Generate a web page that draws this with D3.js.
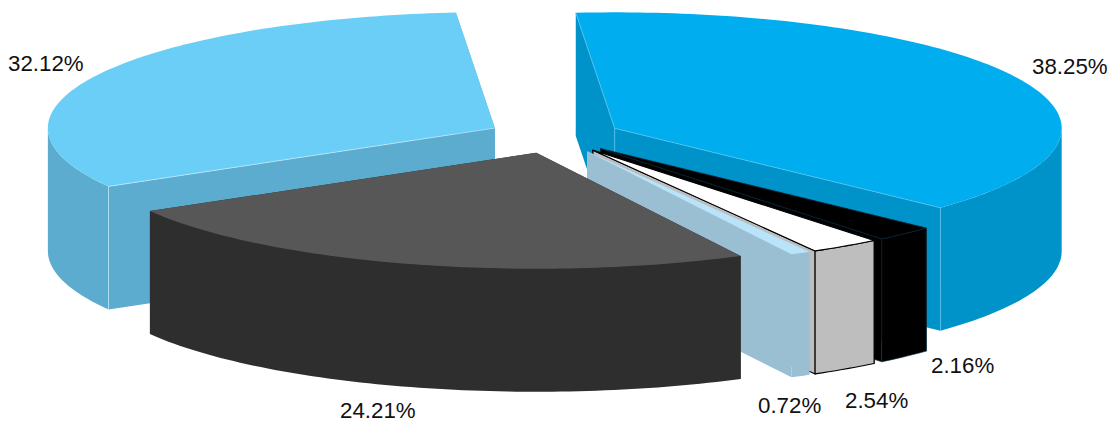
<!DOCTYPE html>
<html>
<head>
<meta charset="utf-8">
<style>
  html, body { margin: 0; padding: 0; background: #fff; }
  svg { display: block; }
  text { font-family: "Liberation Sans", Arial, sans-serif; font-size: 22.3px; fill: #111; }
</style>
<script src="https://cdn.jsdelivr.net/npm/d3@7"></script>
</head>
<body>
<div id="chart"></div>
<script>
// values, clockwise from the blue slice
const shares = [38.25, 2.16, 2.54, 0.72, 24.21, 32.12];
const labels = ["38.25%", "2.16%", "2.54%", "0.72%", "24.21%", "32.12%"];

const topColors = ["#00AEEF", "#000000", "#FFFFFF", "#B9E3F9", "#575757", "#6BCEF6"];
const wallColors = ["#0093C9", "#000000", "#BEBEBE", "#9BBFD2", "#2E2E2E", "#5BACCE"];
const outlineColors = ["none", "#0A3345", "#000000", "none", "none", "none"];
const seamColors = ["#5CC4EE", "none", "none", "none", "none", "#C6EBFB"];
const labelPos = [[1032, 74], [931, 373], [845, 408], [758, 413], [340, 418], [8, 71]];

const width = 1115, height = 423;
const rx = 447, ry = 116, depth = 123, explode = 0.15;
const cx = 554.5, cy = 136;
const startDeg = -95;
const skewDeg = 0.6; // the picture's perspective pulls the front slices round a little

const x = d3.scaleLinear().domain([-1, 1]).range([cx - rx, cx + rx]);
const y = d3.scaleLinear().domain([-1, 1]).range([cy - ry, cy + ry]);

const rad = Math.PI / 180;
const skew = (a) => a + skewDeg * rad * Math.pow(Math.sin((a - startDeg * rad) / 2), 2);

const pie = d3.pie().sort(null)
  .startAngle(startDeg * rad)
  .endAngle((startDeg + 360) * rad);

const slices = pie(shares).map((d, i) => {
  const mid = (d.startAngle + d.endAngle) / 2;
  return {
    i,
    startAngle: skew(d.startAngle),
    endAngle: skew(d.endAngle),
    ox: explode * Math.cos(mid),
    oy: explode * Math.sin(mid)
  };
});

const line = d3.line().x((p) => x(p[0])).y((p) => y(p[1]) + (p[2] || 0));

function arcPoints(s, a0, a1, drop) {
  const n = Math.max(2, Math.ceil((a1 - a0) / 0.02));
  return d3.range(n + 1).map((k) => {
    const a = a0 + (a1 - a0) * k / n;
    return [s.ox + Math.cos(a), s.oy + Math.sin(a), drop || 0];
  });
}

const apex = (s, drop) => [s.ox, s.oy, drop || 0];
const rim = (s, a, drop) => [s.ox + Math.cos(a), s.oy + Math.sin(a), drop || 0];

function edgeWall(s, a) {
  return line([apex(s), rim(s, a), rim(s, a, depth), apex(s, depth)]) + "Z";
}

function outerWall(s) {
  const a0 = Math.max(s.startAngle, 0), a1 = Math.min(s.endAngle, Math.PI);
  if (a1 <= a0) return null;
  return line(arcPoints(s, a0, a1).concat(arcPoints(s, a0, a1, depth).reverse())) + "Z";
}

function topFace(s) {
  return line([apex(s)].concat(arcPoints(s, s.startAngle, s.endAngle))) + "Z";
}

// the radial edge nearer the viewer is painted last
function frontAngle(s) {
  return Math.sin(s.startAngle) > Math.sin(s.endAngle) ? s.startAngle : s.endAngle;
}
function backAngle(s) {
  return frontAngle(s) === s.startAngle ? s.endAngle : s.startAngle;
}

const svg = d3.select("#chart").append("svg").attr("width", width).attr("height", height);

// back to front
const order = [5, 0, 1, 2, 3, 4];
const g = svg.selectAll("g.slice").data(order.map((k) => slices[k])).enter()
  .append("g").attr("class", "slice");

g.each(function(s) {
  const sel = d3.select(this);
  const wall = [edgeWall(s, backAngle(s)), edgeWall(s, frontAngle(s)), outerWall(s)].filter(Boolean);
  sel.selectAll("path.wall").data(wall).enter().append("path")
    .attr("class", "wall")
    .attr("d", (d) => d)
    .attr("fill", wallColors[s.i])
    .attr("stroke", outlineColors[s.i])
    .attr("stroke-width", s.i === 2 ? 1.1 : 0.6)
    .attr("stroke-linejoin", "round");
  sel.append("path")
    .attr("class", "top")
    .attr("d", topFace(s))
    .attr("fill", topColors[s.i])
    .attr("stroke", outlineColors[s.i])
    .attr("stroke-width", s.i === 2 ? 1.1 : 0.6)
    .attr("stroke-linejoin", "round");
  // thin highlight along the front edge and down the corner
  if (seamColors[s.i] !== "none") {
    const a = frontAngle(s);
    const seams = [[apex(s), rim(s, a), rim(s, a, depth)]];
    // the blue slice shows its back edge as well, with the seam down the apex
    if (s.i === 0) seams.push([rim(s, backAngle(s)), apex(s), apex(s, depth)]);
    sel.selectAll("path.seam").data(seams).enter().append("path")
      .attr("class", "seam")
      .attr("d", line)
      .attr("fill", "none")
      .attr("stroke", seamColors[s.i])
      .attr("stroke-width", 0.7);
  }
});

svg.selectAll("text.label").data(labels).enter().append("text")
  .attr("class", "label")
  .attr("x", (d, i) => labelPos[i][0])
  .attr("y", (d, i) => labelPos[i][1])
  .text((d) => d);
</script>
</body>
</html>
